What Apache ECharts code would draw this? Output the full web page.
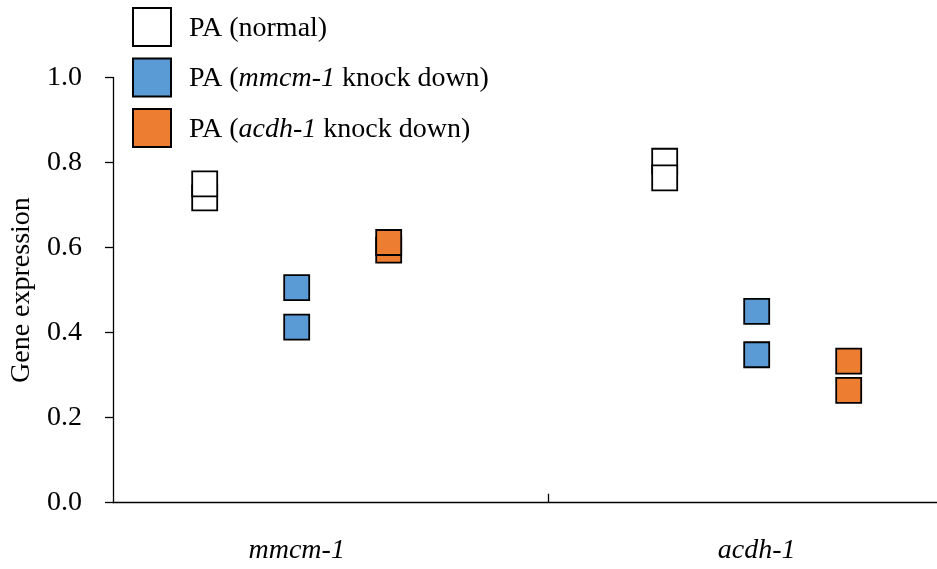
<!DOCTYPE html>
<html>
<head>
<meta charset="utf-8">
<script src="https://cdn.jsdelivr.net/npm/echarts@6/dist/echarts.min.js"></script>
<style>
html,body{margin:0;padding:0;background:#fff;}
#chart{width:937px;height:569px;}
</style>
</head>
<body>
<div id="chart"></div>
<script>
// ---- data ----
const categories = ['mmcm-1', 'acdh-1'];
const seriesNames = ['PA (normal)', 'PA (mmcm-1 knock down)', 'PA (acdh-1 knock down)'];
// replicate values per category
const normalValues = [[0.717, 0.750], [0.803, 0.764]];
const mmcmKdValues = [[0.506, 0.413], [0.450, 0.348]];
const acdhKdValues = [[0.594, 0.612], [0.333, 0.264]];
const yTickValues = [0, 0.2, 0.4, 0.6, 0.8, 1.0];

// ---- layout constants ----
const groupCenter = [0.4223, 1.4798];
const slotOffset = [-0.2115, 0, 0.2115];
const xVisibleMax = 1.8943; // category axis spans 0..2, right part clipped by the frame
const FONT = 'Liberation Serif';

const allValues = [normalValues, mmcmKdValues, acdhKdValues];
const colors = ['#FFFFFF', '#5B9BD5', '#ED7D31'];

function buildData(vals, s) {
  const out = [];
  vals.forEach((reps, ci) => {
    reps.forEach(v => out.push([groupCenter[ci] + slotOffset[s], v]));
  });
  return out;
}

const series = allValues.map((vals, s) => ({
  name: seriesNames[s],
  type: 'scatter',
  symbol: 'rect',
  symbolSize: 25,
  data: buildData(vals, s),
  itemStyle: { color: colors[s], borderColor: '#000', borderWidth: 1.8, opacity: 1 },
  emphasis: { disabled: true },
  clip: false,
  z: 3
}));

const chart = echarts.init(document.getElementById('chart'), null, { renderer: 'canvas' });
chart.setOption({
  animation: false,
  backgroundColor: '#fff',
  grid: { left: 113, right: 0, top: 77.5, bottom: 66.3, containLabel: false },
  legend: {
    orient: 'vertical',
    left: 132,
    top: 7,
    padding: 0,
    itemWidth: 38,
    itemHeight: 38,
    itemGap: 10.5,
    icon: 'rect',
    itemStyle: { borderColor: '#000', borderWidth: 2 },
    data: seriesNames,
    formatter: function (name) {
      if (name === seriesNames[1]) return '{n|PA (}{i|mmcm-1}{n| knock down)}';
      if (name === seriesNames[2]) return '{n|PA (}{i|acdh-1}{n| knock down)}';
      return '{n|' + name + '}';
    },
    textStyle: {
      fontFamily: FONT, fontSize: 28, color: '#000',
      padding: [3, 0, 0, 13],
      lineHeight: 30,
      rich: {
        n: { fontFamily: FONT, fontSize: 28, color: '#000', lineHeight: 30 },
        i: { fontFamily: FONT, fontSize: 28, color: '#000', fontStyle: 'italic', lineHeight: 30 }
      }
    }
  },
  xAxis: {
    type: 'value',
    min: 0,
    max: xVisibleMax,
    splitLine: { show: false },
    axisLine: { show: true, lineStyle: { color: '#000', width: 1.3 } },
    axisTick: { show: true, inside: true, length: 9, customValues: [1], lineStyle: { color: '#000', width: 1.3 } },
    axisLabel: {
      show: true,
      customValues: groupCenter,
      margin: 34,
      fontFamily: FONT,
      fontSize: 28,
      fontStyle: 'italic',
      color: '#000',
      formatter: function (v) {
        let best = 0;
        groupCenter.forEach((c, i) => { if (Math.abs(c - v) < Math.abs(groupCenter[best] - v)) best = i; });
        return categories[best];
      }
    }
  },
  yAxis: {
    type: 'value',
    min: yTickValues[0],
    max: yTickValues[yTickValues.length - 1],
    interval: 0.2,
    name: 'Gene expression',
    nameLocation: 'middle',
    nameGap: 75,
    nameTextStyle: { fontFamily: FONT, fontSize: 28, color: '#000' },
    splitLine: { show: false },
    axisLine: { show: true, lineStyle: { color: '#000', width: 1.3 } },
    axisTick: { show: true, inside: false, length: 8, lineStyle: { color: '#000', width: 1.3 } },
    axisLabel: {
      margin: 31,
      fontFamily: FONT,
      fontSize: 28,
      color: '#000',
      formatter: v => v.toFixed(1)
    }
  },
  series: series
});
</script>
</body>
</html>
